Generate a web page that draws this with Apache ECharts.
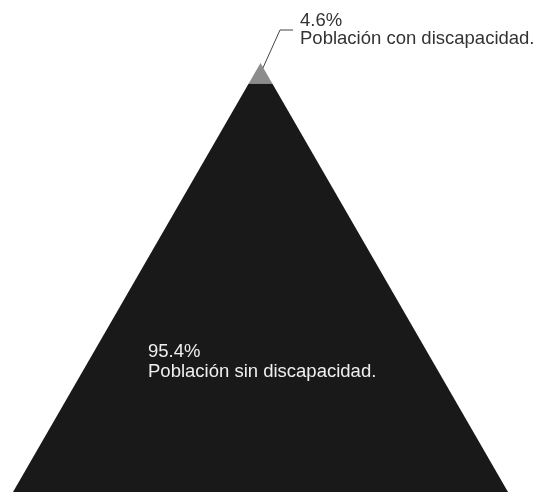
<!DOCTYPE html>
<html>
<head>
<meta charset="utf-8">
<script src="https://cdn.jsdelivr.net/npm/echarts@6/dist/echarts.min.js"></script>
<style>
  html, body { margin: 0; padding: 0; background: #fff; }
  #chart { width: 540px; height: 492px; }
</style>
</head>
<body>
<div id="chart"></div>
<script>
// data
var names = ['Población con discapacidad.', 'Población sin discapacidad.'];
var values = [4.6, 95.4];
var colors = ['#8c8c8c', '#191919'];

var chart = echarts.init(document.getElementById('chart'));
var font = '"Liberation Sans", Arial, Helvetica, sans-serif';
var vmax = Math.max.apply(null, values);

// the tip piece gets a height in proportion so both edges stay straight
var tipShare = values[0] / vmax * 100;

var data = names.map(function (n, i) {
  var item = {
    name: n,
    value: values[i],
    itemStyle: {
      color: colors[i],
      height: (i === 0 ? tipShare : 100 - tipShare) + '%'
    }
  };
  if (i === 0) {
    item.label = {
      position: 'inside',
      color: '#333',
      lineHeight: 18,
      padding: [0, 0, 0, 7]
    };
    item.labelLine = {
      show: true,
      length: 10,
      length2: 13,
      lineStyle: { color: '#444', width: 1 }
    };
  } else {
    item.label = {
      position: 'inside',
      color: '#efefef',
      lineHeight: 20
    };
    item.labelLine = { show: false };
  }
  return item;
});

var option = {
  backgroundColor: '#ffffff',
  animation: false,
  series: [
    {
      type: 'funnel',
      sort: 'ascending',
      left: 13,
      top: 63,
      width: 495,
      height: 429,
      min: 0,
      max: vmax,
      minSize: '0%',
      maxSize: '100%',
      gap: 0,
      itemStyle: { borderWidth: 0 },
      label: {
        show: true,
        formatter: '{c}%\n{b}',
        fontFamily: font,
        fontSize: 18.5,
        align: 'left'
      },
      labelLayout: function (p) {
        if (p.dataIndex === 0) {
          return { x: 293, y: 30, align: 'left', verticalAlign: 'middle' };
        }
        return { x: 148, y: 362, align: 'left', verticalAlign: 'middle' };
      },
      emphasis: { disabled: true },
      data: data
    }
  ]
};

chart.setOption(option);
</script>
</body>
</html>
